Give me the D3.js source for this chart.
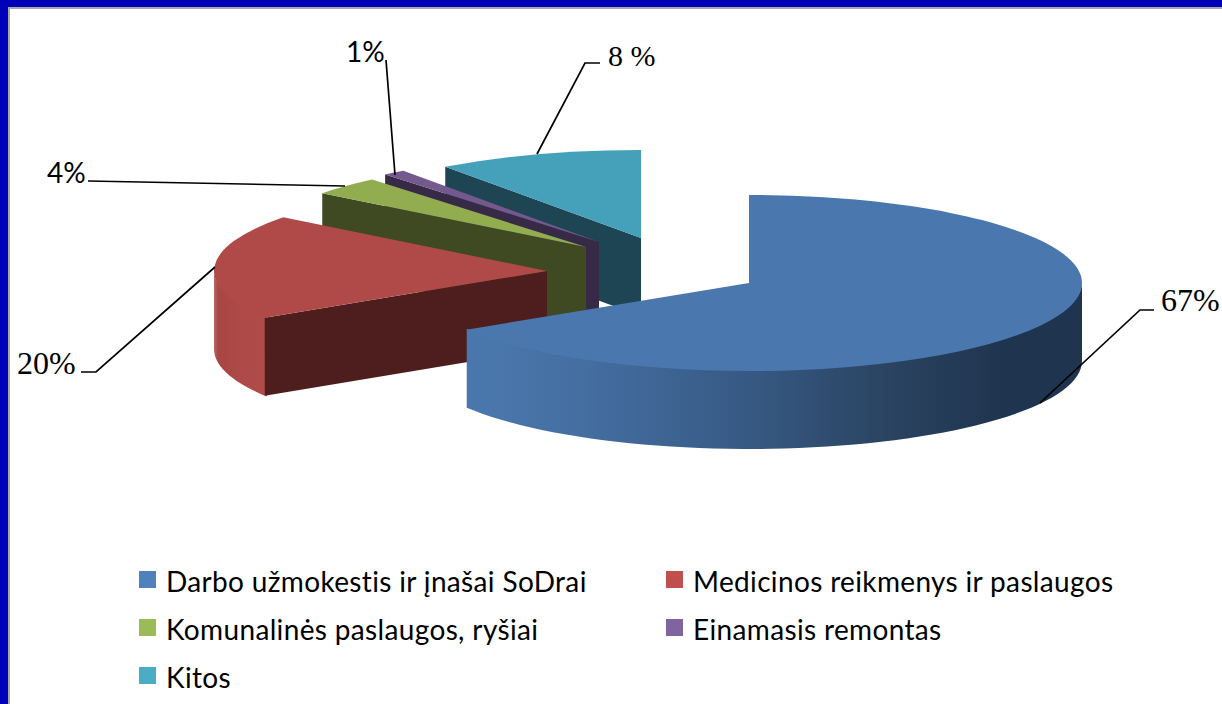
<!DOCTYPE html>
<html><head><meta charset="utf-8">
<style>html,body{margin:0;padding:0;background:#fff}svg{display:block}</style>
<script src="https://cdn.jsdelivr.net/npm/d3@7/dist/d3.min.js"></script>
</head><body><div id="c"></div>
<script>
const categories = ["Darbo užmokestis ir įnašai SoDrai","Medicinos reikmenys ir paslaugos","Komunalinės paslaugos, ryšiai","Einamasis remontas","Kitos"];
const sliceShares = [66.1, 19.35, 3.45, 1.1, 10.0];
const dataLabels = ["67%","20%","4%","1%","8 %"];
const legendColors = ["#4f81bd","#c0504d","#9bbb59","#8064a2","#4bacc6"];
const topColors = ["#4a78ae","#b04a48","#91ad50","#74598f","#45a0b9"];
const wallColors = ["#1f344e","#4e1e1e","#3f4922","#372a47","#1e4553"];

// layout
const W = 1222, H = 704, rx = 333, ry = 88, depth = 78;
const centers = [[749,283],[547,271],[586,247],[599,242],[641,238]];
const labelStyle = [
  {x:1161,y:311,font:"Liberation Serif",size:32},
  {x:17,y:374,font:"Liberation Serif",size:32},
  {x:47,y:183,font:"Lato",size:28},
  {x:346,y:62,font:"Lato",size:28},
  {x:608,y:66,font:"Liberation Serif",size:30}
];
const leaders = [
  [[1040,403],[1140,310],[1154,310]],
  [[215,267],[96,372],[81,372]],
  [[345,186],[88,181]],
  [[395,175],[386,60]],
  [[537,154],[585,63],[600,63]]
];

const svg = d3.select("#c").append("svg").attr("width",W).attr("height",H);
svg.append("rect").attr("width",W).attr("height",H).attr("fill","#fff");

const defs = svg.append("defs");
const grad = defs.append("linearGradient").attr("id","blueWall").attr("gradientUnits","userSpaceOnUse")
  .attr("x1",467).attr("x2",1082).attr("y1",0).attr("y2",0);
[[0,"#4a78ae"],[0.18,"#456fa2"],[0.45,"#375a84"],[0.7,"#29425f"],[0.88,"#1f344e"],[1,"#1f344e"]]
  .forEach(s=>grad.append("stop").attr("offset",s[0]).attr("stop-color",s[1]));
const gradR = defs.append("linearGradient").attr("id","redWall").attr("gradientUnits","userSpaceOnUse")
  .attr("x1",214).attr("x2",265).attr("y1",0).attr("y2",0);
[[0,"#b86a68"],[0.08,"#a84644"],[0.5,"#ad4a48"],[1,"#b04c4a"]]
  .forEach(s=>gradR.append("stop").attr("offset",s[0]).attr("stop-color",s[1]));

const arcs = d3.pie().sort(null).value(d=>d)(sliceShares);
const arcGen = d3.arc().innerRadius(0).outerRadius(rx);
const pt = (i,a,drop=0)=>[centers[i][0]+rx*Math.sin(a), centers[i][1]-ry*Math.cos(a)+drop];
const line = d3.line();

function outerWall(i,a0,a1){
  const as = d3.range(0,61).map(k=>a0+(a1-a0)*k/60);
  return line(as.map(a=>pt(i,a,-1)).concat(as.slice().reverse().map(a=>pt(i,a,depth))))+"Z";
}
function cutWall(i,a){
  const c = centers[i], e = pt(i,a);
  return line([c,e,[e[0],e[1]+depth],[c[0],c[1]+depth]])+"Z";
}

const g = svg.append("g");
[4,3,2,1,0].forEach(i=>{
  const d = arcs[i];
  if(i===0) g.append("path").attr("d",outerWall(0,Math.PI/2,d.endAngle)).attr("fill","url(#blueWall)");
  if(i===1) g.append("path").attr("d",outerWall(1,d.startAngle-0.012,Math.PI*1.5)).attr("fill","url(#redWall)");
  if(i>0) g.append("path").attr("d",cutWall(i,d.startAngle)).attr("fill",wallColors[i]);
  g.append("path").attr("d",arcGen(d))
    .attr("transform",`translate(${centers[i][0]},${centers[i][1]}) scale(1,${ry/rx})`)
    .attr("fill",topColors[i]);
});

svg.append("g").selectAll("path").data(leaders).join("path")
  .attr("d",d=>line(d)).attr("fill","none").attr("stroke","#000").attr("stroke-width",1.7);

svg.append("g").selectAll("text").data(dataLabels).join("text")
  .attr("x",(d,i)=>labelStyle[i].x).attr("y",(d,i)=>labelStyle[i].y)
  .attr("font-family",(d,i)=>labelStyle[i].font).attr("font-size",(d,i)=>labelStyle[i].size)
  .attr("fill","#000").text(d=>d);

const legX = d3.scaleOrdinal().domain([0,1]).range([139,666]);
const legY = d3.scaleOrdinal().domain([0,1,2]).range([571,619,667]);
const leg = svg.append("g").selectAll("g").data(categories).join("g")
  .attr("transform",(d,i)=>`translate(${legX(i%2)},${legY(Math.floor(i/2))})`);
leg.append("rect").attr("width",17).attr("height",17).attr("fill",(d,i)=>legendColors[i]);
leg.append("text").attr("x",27).attr("y",21)
  .attr("font-family","Lato").attr("font-size",28).attr("letter-spacing",0.35).attr("fill","#000").text(d=>d);

svg.append("rect").attr("x",0).attr("y",0).attr("width",W).attr("height",7).attr("fill","#0000b8");
svg.append("rect").attr("x",0).attr("y",0).attr("width",8).attr("height",H).attr("fill","#0000b8");
svg.append("rect").attr("x",8).attr("y",7).attr("width",W-8).attr("height",2).attr("fill","#a8a8a8");
svg.append("rect").attr("x",8).attr("y",7).attr("width",2).attr("height",H-7).attr("fill","#a8a8a8");
</script></body></html>
